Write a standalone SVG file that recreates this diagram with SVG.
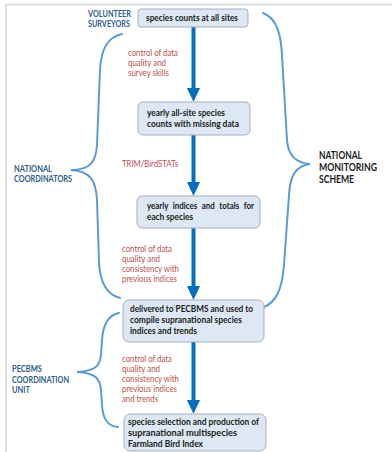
<svg xmlns="http://www.w3.org/2000/svg" width="392" height="452" viewBox="0 0 392 452">
<style>
.frame{fill:none;stroke:#dfded8;stroke-width:2}
.bx{fill:#dde8f4;stroke:#a9b0b8;stroke-width:1}
.bt{font-family:Lato,"Liberation Sans",sans-serif;font-weight:bold;font-size:9.4px;fill:#1a1a1a}
.rl{font-family:Lato,"Liberation Sans",sans-serif;font-size:9.2px;fill:#c0504d}
.bl{font-family:Lato,"Liberation Sans",sans-serif;font-weight:bold;font-size:9px;fill:#2f5d8a}
.sl{font-family:Lato,"Liberation Sans",sans-serif;font-weight:bold;font-size:10.4px;fill:#1a1a1a}
.br{fill:none;stroke:#5b9bd5;stroke-width:2;stroke-linecap:round}
.ar{stroke:#0070c0;stroke-width:4;marker-end:url(#ah)}
</style>
<defs>
<marker id="ah" markerUnits="userSpaceOnUse" markerWidth="14" markerHeight="13" refX="4" refY="6.5" orient="auto">
<path d="M0,0 L14,6.5 L0,13 z" fill="#0070c0"/>
</marker>
</defs>
<path class="frame" d="M6,452 L6,4.5 L392,4.5"/>
<g id="connectors">
<line class="ar" x1="193.5" y1="27" x2="193.5" y2="92"/>
<line class="ar" x1="193.5" y1="135" x2="193.5" y2="186"/>
<line class="ar" x1="193.5" y1="228" x2="193.5" y2="290"/>
<line class="ar" x1="193.5" y1="342" x2="193.5" y2="404"/>
</g>
<g id="braces">
<path id="brace-national-coordinators" class="br" d="M122,34 C108,37 101,48 100,70 L97,145 C96,162 90,170 71,170 C90,171 96,180 97,200 L99,262 C100,285 108,295 120,298"/>
<path id="brace-national-scheme" class="br" d="M263,13 C277,18 281,35 282,55 L287,140 C288,155 295,163 310,164 C296,166 290,175 289,195 L284,265 C282,290 276,302 264,307"/>
<path id="brace-pecbms" class="br" d="M119,313 C108,315 103,325 102,340 L101,355 C100,366 95,371 77,372 C95,373 100,378 101,390 L102,405 C103,420 108,426 118,427"/>
</g>
<g id="node1">
<rect class="bx" x="138" y="9" width="110" height="18" rx="3"/>
<text class="bt" x="146" y="21" textLength="92" lengthAdjust="spacingAndGlyphs">species counts at all sites</text>
</g>
<g id="node2">
<rect class="bx" x="138" y="102" width="112" height="33" rx="5"/>
<text class="bt" x="147" y="116" textLength="78" lengthAdjust="spacingAndGlyphs">yearly all-site species</text>
<text class="bt" x="147" y="127" textLength="92" lengthAdjust="spacingAndGlyphs">counts with missing data</text>
</g>
<g id="node3">
<rect class="bx" x="137" y="196" width="123" height="32" rx="5"/>
<text class="bt" x="147" y="209" textLength="107" lengthAdjust="spacingAndGlyphs" word-spacing="3">yearly indices and totals for</text>
<text class="bt" x="147" y="220" textLength="46" lengthAdjust="spacingAndGlyphs">each species</text>
</g>
<g id="node4">
<rect class="bx" x="123" y="300" width="141" height="42" rx="6"/>
<text class="bt" x="130" y="312" textLength="123" lengthAdjust="spacingAndGlyphs">delivered to PECBMS and used to</text>
<text class="bt" x="130" y="323" textLength="112" lengthAdjust="spacingAndGlyphs">compile supranational species</text>
<text class="bt" x="130" y="334" textLength="67" lengthAdjust="spacingAndGlyphs">indices and trends</text>
</g>
<g id="node5">
<rect class="bx" x="124" y="414" width="142" height="37" rx="6"/>
<text class="bt" x="128" y="425" textLength="131" lengthAdjust="spacingAndGlyphs">species selection and production of</text>
<text class="bt" x="128" y="436" textLength="109" lengthAdjust="spacingAndGlyphs">supranational multispecies</text>
<text class="bt" x="128" y="447" textLength="75" lengthAdjust="spacingAndGlyphs">Farmland Bird Index</text>
</g>
<g id="label-volunteer">
<text class="bl" x="88" y="17" textLength="43" lengthAdjust="spacingAndGlyphs">VOLUNTEER</text>
<text class="bl" x="88" y="27" textLength="42" lengthAdjust="spacingAndGlyphs">SURVEYORS</text>
</g>
<g id="label-national-coordinators">
<text class="bl" x="14" y="172" textLength="38" lengthAdjust="spacingAndGlyphs">NATIONAL</text>
<text class="bl" x="14" y="182" textLength="58" lengthAdjust="spacingAndGlyphs">COORDINATORS</text>
</g>
<g id="label-pecbms">
<text class="bl" x="12" y="372" textLength="30" lengthAdjust="spacingAndGlyphs">PECBMS</text>
<text class="bl" x="12" y="383" textLength="57" lengthAdjust="spacingAndGlyphs">COORDINATION</text>
<text class="bl" x="12" y="393" textLength="18" lengthAdjust="spacingAndGlyphs">UNIT</text>
</g>
<g id="label-scheme">
<text class="sl" x="319" y="159" textLength="43" lengthAdjust="spacingAndGlyphs">NATIONAL</text>
<text class="sl" x="319" y="171" textLength="58" lengthAdjust="spacingAndGlyphs">MONITORING</text>
<text class="sl" x="319" y="183" textLength="35" lengthAdjust="spacingAndGlyphs">SCHEME</text>
</g>
<g id="step-labels">
<text class="rl" x="128" y="56" textLength="50" lengthAdjust="spacingAndGlyphs">control of data</text>
<text class="rl" x="128" y="66" textLength="38" lengthAdjust="spacingAndGlyphs">quality and</text>
<text class="rl" x="128" y="76" textLength="41" lengthAdjust="spacingAndGlyphs">survey skills</text>
<text class="rl" x="122" y="167" textLength="56" lengthAdjust="spacingAndGlyphs">TRIM/BirdSTATs</text>
<text class="rl" x="122" y="252" textLength="50" lengthAdjust="spacingAndGlyphs">control of data</text>
<text class="rl" x="122" y="262" textLength="38" lengthAdjust="spacingAndGlyphs">quality and</text>
<text class="rl" x="122" y="272" textLength="57" lengthAdjust="spacingAndGlyphs">consistency with</text>
<text class="rl" x="122" y="282" textLength="55" lengthAdjust="spacingAndGlyphs">previous indices</text>
<text class="rl" x="122" y="362" textLength="50" lengthAdjust="spacingAndGlyphs">control of data</text>
<text class="rl" x="122" y="372" textLength="38" lengthAdjust="spacingAndGlyphs">quality and</text>
<text class="rl" x="122" y="382" textLength="57" lengthAdjust="spacingAndGlyphs">consistency with</text>
<text class="rl" x="122" y="392" textLength="55" lengthAdjust="spacingAndGlyphs">previous indices</text>
<text class="rl" x="122" y="402" textLength="36" lengthAdjust="spacingAndGlyphs">and trends</text>
</g>
</svg>
